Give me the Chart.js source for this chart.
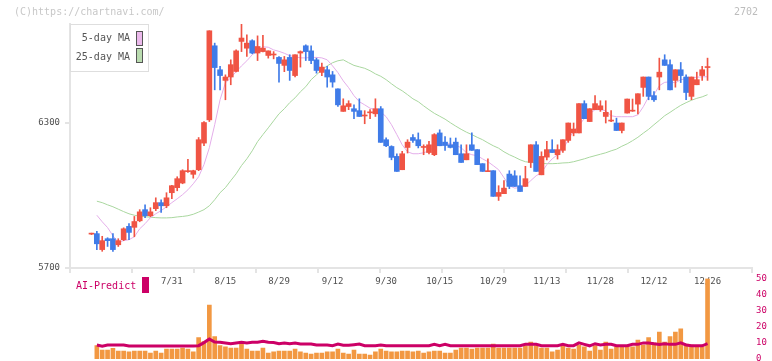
<!DOCTYPE html>
<html><head><meta charset="utf-8">
<script src="https://cdn.jsdelivr.net/npm/chart.js@4/dist/chart.umd.min.js"></script>
<style>
html,body{margin:0;padding:0;background:#fff;}
body{width:772px;height:361px;overflow:hidden;position:relative;font-family:"DejaVu Sans Mono",monospace;}
canvas{position:absolute;left:0;top:0;}
.t{position:absolute;white-space:nowrap;font-size:10px;line-height:12px;}
.sw{position:absolute;box-sizing:border-box;}
</style></head><body>
<canvas id="main" width="772" height="361"></canvas>
<canvas id="sub" width="772" height="372"></canvas>
<div class="t" style="left:14px;top:6px;color:#c8c8c8">(C)https://chartnavi.com/</div>
<div class="t" style="left:734px;top:6px;color:#bdbdbd">2702</div>
<div class="sw" style="left:70px;top:24px;width:79px;height:48px;border:1px solid #dedede;"></div>
<div class="t" style="left:50px;width:80px;text-align:right;top:32px;color:#555">5-day MA</div>
<div class="t" style="left:50px;width:80px;text-align:right;top:51px;color:#555">25-day MA</div>
<div class="sw" style="left:136px;top:31px;width:7px;height:15px;border:1px solid #555;background:#ebb9eb"></div>
<div class="sw" style="left:136px;top:48px;width:7px;height:15px;border:1px solid #555;background:#badcb0"></div>
<div class="t" style="left:76px;top:280px;color:#cc0066">AI-Predict</div>
<div class="sw" style="left:142px;top:277px;width:7px;height:16px;background:#cc0066"></div>
<script>
// ---- data ----
const tickIndex  = [15, 25, 35, 45, 55, 65, 75, 85, 95, 105, 115];
const tickLabels = ['7/31','8/15','8/29','9/12','9/30','10/15','10/29','11/13','11/28','12/12','12/26'];
const priceTicks = [5700, 6300];

const open  = [5840,5842,5776,5821,5821,5796,5817,5872,5868,5895, 5941,5916,5945,5970,5957,6011,6032,6051,6098,6087,
               6106,6216,6312,6618,6519,6475,6489,6512,6636,6608, 6639,6588,6594,6578,6580,6570,6537,6570,6495,6588,
               6618,6597,6560,6508,6519,6498,6440,6347,6367,6358, 6350,6328,6341,6337,6358,6230,6202,6161,6106,6198,
               6239,6230,6198,6177,6168,6258,6220,6209,6220,6172, 6147,6209,6189,6131,6098,6102,5996,6007,6088,6081,
               6040,6037,6136,6209,6085,6158,6189,6168,6186,6227, 6258,6258,6379,6305,6354,6354,6326,6307,6299,6268,
               6340,6348,6377,6446,6489,6412,6489,6560,6540,6475, 6519,6489,6409,6457,6495,6528];
const high  = [5844,5851,5831,5825,5842,5821,5866,5883,5913,5941, 5961,5949,5990,5982,6011,6042,6077,6106,6149,6104,
               6239,6305,6680,6629,6533,6498,6560,6601,6709,6663, 6643,6659,6661,6597,6594,6573,6574,6581,6581,6597,
               6622,6618,6567,6547,6533,6512,6440,6399,6391,6374, 6399,6350,6354,6399,6367,6238,6205,6172,6182,6230,
               6251,6258,6209,6223,6255,6271,6243,6237,6237,6209, 6209,6258,6189,6131,6151,6102,6040,6061,6102,6102,
               6081,6120,6209,6222,6180,6223,6230,6209,6230,6299, 6299,6379,6391,6358,6412,6391,6391,6350,6319,6299,
               6398,6398,6420,6489,6489,6429,6567,6581,6560,6519, 6549,6498,6489,6509,6533,6567];
const low   = [5838,5776,5769,5789,5769,5789,5813,5817,5829,5891, 5908,5912,5937,5930,5949,5986,6019,6048,6095,6071,
               6102,6205,6305,6436,6436,6395,6457,6510,6594,6574, 6585,6557,6593,6567,6564,6468,6511,6475,6489,6530,
               6557,6544,6505,6495,6447,6447,6367,6347,6354,6317, 6326,6296,6317,6326,6219,6201,6147,6099,6106,6175,
               6219,6196,6168,6171,6164,6205,6186,6196,6168,6136, 6147,6186,6127,6099,6098,5996,5979,6007,6028,6037,
               6016,6037,6115,6099,6085,6147,6177,6150,6177,6219, 6246,6258,6317,6305,6354,6347,6299,6305,6268,6258,
               6340,6347,6337,6409,6395,6388,6436,6537,6436,6447, 6466,6395,6395,6457,6475,6475];
const close = [5842,5800,5813,5813,5776,5813,5862,5847,5892,5932, 5916,5932,5970,5957,5990,6040,6069,6102,6102,6102,
               6230,6301,6680,6528,6495,6489,6540,6597,6650,6629, 6588,6615,6608,6597,6584,6545,6560,6516,6581,6594,
               6594,6557,6516,6530,6489,6468,6374,6370,6379,6347, 6326,6329,6343,6358,6219,6205,6157,6099,6172,6220,
               6227,6205,6200,6209,6251,6205,6206,6198,6168,6136, 6172,6186,6127,6099,6099,5996,6012,6030,6037,6037,
               6016,6069,6209,6099,6161,6189,6177,6189,6230,6299, 6274,6379,6317,6358,6379,6370,6343,6308,6268,6299,
               6398,6350,6420,6489,6409,6395,6509,6537,6436,6519, 6495,6425,6489,6478,6519,6530];
const ma5   = [null,5918,5891,5867,5833,5807,5813,5817,5829,5862, 5883,5908,5924,5937,5953,5970,5986,6003,6023,6048,
               6077,6127,6197,6292,6395,6465,6486,6511,6535,6556, 6581,6597,6614,6612,6601,6595,6587,6577,6573,6568,
               6568,6570,6570,6568,6560,6535,6507,6473,6445,6412, 6387,6374,6360,6354,6345,6325,6292,6251,6209,6180,
               6172,6172,6176,6184,6201,6209,6213,6213,6207,6197, 6176,6168,6164,6151,6139,6123,6106,6073,6040,6030,
               6032,6040,6061,6081,6094,6127,6151,6168,6189,6230, 6265,6290,6317,6337,6354,6354,6350,6329,6325,6325,
               6325,6325,6333,6366,6407,6416,6453,6467,6469,6465, 6478,6482,6486,6488,6490,6490];
const ma25  = [null,5976,5970,5961,5953,5943,5933,5924,5918,5914, 5912,5910,5908,5907,5907,5908,5911,5913,5916,5922,
               5931,5941,5957,5982,6011,6032,6061,6089,6123,6151, 6184,6222,6251,6279,6308,6337,6358,6383,6403,6428,
               6449,6478,6498,6519,6535,6548,6556,6560,6548,6537, 6531,6525,6515,6502,6492,6478,6461,6445,6432,6416,
               6399,6387,6370,6354,6339,6327,6315,6300,6286,6273, 6261,6251,6240,6230,6217,6205,6195,6180,6168,6158,
               6147,6139,6136,6134,6132,6131,6131,6132,6134,6135, 6139,6145,6151,6158,6164,6170,6176,6184,6191,6203,
               6213,6226,6240,6257,6273,6292,6310,6329,6343,6358, 6372,6383,6393,6401,6407,6416];
const volume = [null,8.3,5.6,5.6,6.6,5.0,5.0,4.4,5.0,5.0, 5.0,3.7,5.0,3.7,6.2,6.2,6.2,6.8,6.2,4.4,
               13.3,10.8,33.6,13.9,8.3,7.5,6.8,6.8,9.5,6.2, 5.0,5.0,6.8,3.7,4.4,5.0,5.0,5.0,6.2,4.4,
               3.7,3.1,3.7,3.7,4.4,4.4,6.2,3.7,3.1,5.6, 3.1,3.1,2.5,4.4,6.2,5.0,4.4,4.4,5.0,5.0,
               4.4,5.0,3.7,4.4,5.0,5.0,3.7,3.7,5.6,6.8, 6.8,6.2,6.8,6.8,6.8,9.3,6.8,6.8,6.8,6.8,
               6.8,8.3,10.6,8.3,6.8,6.8,4.4,5.6,8.3,6.8, 6.2,8.7,7.5,5.0,8.3,5.6,10.6,6.2,7.5,7.5,
               8.3,7.5,11.8,8.7,13.3,10.0,16.8,10.6,13.9,16.8, 18.7,9.3,8.7,8.3,7.5,50];
const aiPredict = [null,8.7,7.9,8.7,8.7,8.7,8.7,8.1,8.1,8.1, 8.1,8.1,8.1,8.1,8.1,8.1,8.1,8.1,8.1,8.1,
               8.3,10.2,12.4,10.6,10.4,10.0,9.5,10.0,10.4,10.0, 10.4,10.4,11.0,10.4,10.2,9.5,10.0,9.5,10.0,9.3,
               9.3,9.3,8.7,8.7,8.7,8.3,9.3,8.5,8.5,8.9, 9.3,8.3,8.3,8.3,8.7,8.2,8.2,8.2,8.2,8.2,
               8.2,8.2,8.2,8.2,9.1,8.3,9.1,8.2,8.2,8.2, 8.2,8.2,8.2,8.2,8.2,8.2,8.2,8.2,8.2,8.2,
               8.2,9.1,9.1,9.1,8.2,8.2,8.2,8.2,9.1,8.3, 8.3,10.0,9.1,8.2,9.5,8.7,9.1,9.1,8.2,8.2,
               8.2,9.1,9.1,10.0,10.0,9.5,9.1,9.5,9.1,9.1, 10.0,8.7,8.2,8.2,8.2,9.5];

// ---- styling ----
const RED = '#f05444', BLUE = '#3f7be8';
const X_MIN = -4.013, X_MAX = 123.3;
const MONO = 'DejaVu Sans Mono';
const candleColor = ctx => (close[ctx.dataIndex] >= open[ctx.dataIndex] ? RED : BLUE);
const pts = arr => arr.map((v, i) => ({x: i, y: v}));

new Chart(document.getElementById('main'), {
  data: {
    datasets: [
      {type: 'line', data: pts(ma25), borderColor: '#a9d79f', borderWidth: 1, pointRadius: 0, order: 4},
      {type: 'line', data: pts(ma5), borderColor: '#e4aeea', borderWidth: 1, pointRadius: 0, order: 3},
      {type: 'bar', data: low.map((v, i) => ({x: i, y: [v, high[i]]})), backgroundColor: candleColor,
       barThickness: 1, grouped: false, order: 2},
      {type: 'bar', data: open.map((v, i) => ({x: i, y: [v, close[i]]})), backgroundColor: candleColor,
       barThickness: 5, minBarLength: 1, grouped: false, order: 1}
    ]
  },
  options: {
    responsive: false, animation: false, devicePixelRatio: 1, events: [],
    layout: {padding: {left: 0, top: 24, right: 20, bottom: 0}},
    plugins: {legend: {display: false}, tooltip: {enabled: false}},
    scales: {
      x: {
        type: 'linear', min: X_MIN, max: X_MAX, offset: false, position: 'bottom', weight: 1,
        grid: {display: false, drawTicks: false, offset: false}, border: {display: false},
        afterBuildTicks: s => { s.ticks = tickIndex.map(v => ({value: v})); },
        ticks: {
          callback: v => { const k = tickIndex.indexOf(v); return k >= 0 ? tickLabels[k] : ''; },
          font: {family: MONO, size: 9}, color: '#505050', padding: 8, maxRotation: 0, autoSkip: false
        },
        afterFit: s => { s.height = 93; }
      },
      xg: {
        type: 'linear', min: 0, max: 11, offset: false, position: 'bottom', weight: 0,
        ticks: {display: false, stepSize: 1},
        grid: {display: true, offset: false, drawOnChartArea: false, drawTicks: true, tickLength: 5, color: '#e4e4e4', lineWidth: 2},
        border: {display: true, color: '#e4e4e4', width: 2},
        afterFit: s => { s.height = 0; }
      },
      y: {
        type: 'linear', min: 5700, max: 6708, position: 'left',
        afterBuildTicks: s => { s.ticks = priceTicks.map(v => ({value: v})); },
        ticks: {font: {family: MONO, size: 9}, color: '#505050', padding: 5, callback: v => String(v)},
        grid: {display: true, drawOnChartArea: false, drawTicks: true, tickLength: 5, color: '#e4e4e4', lineWidth: 2},
        border: {display: true, color: '#e4e4e4', width: 2},
        afterFit: s => { s.width = 70; }
      }
    }
  }
});

new Chart(document.getElementById('sub'), {
  data: {
    datasets: [
      {type: 'line', data: pts(aiPredict), borderColor: '#cc0066', borderWidth: 3, pointRadius: 0, order: 1},
      {type: 'bar', data: pts(volume), backgroundColor: '#f29842', barThickness: 4, order: 2}
    ]
  },
  options: {
    responsive: false, animation: false, devicePixelRatio: 1, events: [],
    layout: {padding: {left: 70, top: 278.6, right: 0, bottom: 13}},
    plugins: {legend: {display: false}, tooltip: {enabled: false}},
    scales: {
      x: {type: 'linear', min: X_MIN, max: X_MAX, offset: false, display: false},
      y: {
        type: 'linear', position: 'right', min: 0, max: 50,
        ticks: {stepSize: 10, font: {family: MONO, size: 9}, color: '#cc0066', padding: 4},
        grid: {display: false, drawTicks: false}, border: {display: false},
        afterFit: s => { s.width = 20; }
      }
    }
  }
});
</script>
</body></html>
